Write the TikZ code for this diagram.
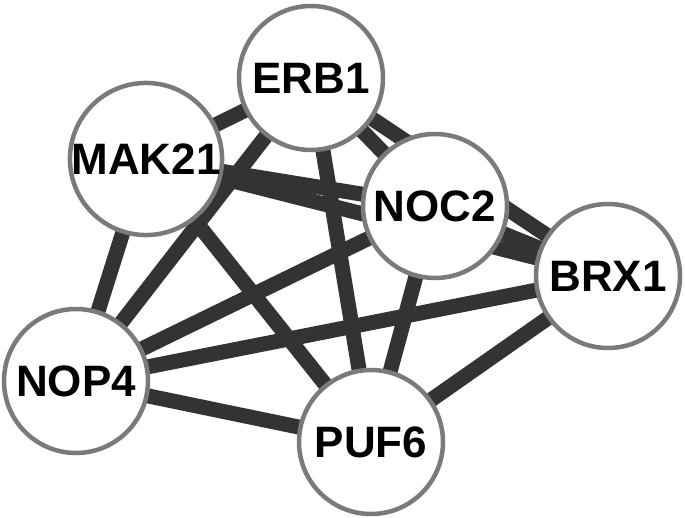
\documentclass[tikz,border=0pt]{standalone}
\usepackage{fontspec}
\setmainfont{Liberation Sans}
\usetikzlibrary{backgrounds}
\definecolor{edgecol}{HTML}{333333}
\definecolor{ringcol}{HTML}{7A7A7A}
\tikzset{
  prot/.style={circle, draw=ringcol, line width=4.5pt, fill=white, minimum size=144pt, inner sep=0pt, font=\fontsize{44}{44}\selectfont\bfseries},
  link/.style={draw=edgecol, line width=15pt}
}
\begin{document}
\begin{tikzpicture}[x=1pt,y=-1pt]
\useasboundingbox (0,0) rectangle (685,518);
\node[prot] (ERB1) at (311,78) {ERB1};
\node[prot] (MAK21) at (146,159) {MAK21};
\node[prot] (NOC2) at (435,206) {NOC2};
\node[prot] (BRX1) at (608,276) {BRX1};
\node[prot] (NOP4) at (76,381) {NOP4};
\node[prot] (PUF6) at (371,442) {PUF6};
\begin{pgfonlayer}{background}
\foreach \a/\b in {ERB1/MAK21, ERB1/NOC2, ERB1/BRX1, ERB1/NOP4, ERB1/PUF6,
  MAK21/NOC2, MAK21/BRX1, MAK21/NOP4, MAK21/PUF6,
  NOC2/BRX1, NOC2/NOP4, NOC2/PUF6,
  BRX1/NOP4, BRX1/PUF6, NOP4/PUF6}
  \draw[link] (\a.center) -- (\b.center);
\end{pgfonlayer}
\end{tikzpicture}
\end{document}
